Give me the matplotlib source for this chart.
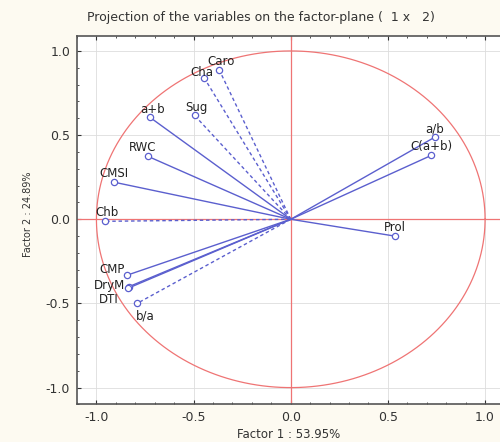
import numpy as np
import matplotlib.pyplot as plt
from matplotlib.ticker import MultipleLocator

plt.rcParams['font.family'] = ['DejaVu Sans']
plt.rcParams['axes.unicode_minus'] = False

# factor loadings
variables = ['Caro', 'Cha', 'Sug', 'a+b', 'RWC', 'CMSI', 'Chb',
             'CMP', 'DryM', 'DTI', 'b/a', 'a/b', 'C(a+b)', 'Prol']
factor1 = [-0.367, -0.444, -0.495, -0.724, -0.735, -0.908, -0.954,
           -0.842, -0.832, -0.838, -0.791, 0.740, 0.724, 0.536]
factor2 = [0.885, 0.837, 0.617, 0.605, 0.374, 0.220, -0.012,
           -0.332, -0.400, -0.410, -0.500, 0.487, 0.380, -0.100]
active = [False, False, False, True, True, True, False,
          True, True, True, False, True, True, True]

# label offsets in points (dx, dy) and alignment
label_off = [(1, 6), (-2, 4), (1, 6), (2, 6), (-4, 6), (0, 6), (1, 6),
             (-2, 4), (-3, 1), (-7, -8), (6, -9), (0, 6), (0, 6), (0, 6)]
label_ha = ['center', 'center', 'center', 'center', 'center', 'center', 'center',
            'right', 'right', 'right', 'center', 'center', 'center', 'center']

blue = '#5b5fce'
red = '#ef7474'

fig = plt.figure(figsize=(5.0, 4.42), dpi=100)
fig.patch.set_facecolor('#fdfaf1')
ax = fig.add_axes([0.154, 0.085, 0.855, 0.834])
ax.set_facecolor('white')

# unit circle and red crosshair
t = np.linspace(0, 2 * np.pi, 400)
ax.plot(np.cos(t), np.sin(t), color=red, lw=0.9, zorder=2)
ax.axhline(0, color=red, lw=0.9, zorder=2)
ax.axvline(0, color=red, lw=0.9, zorder=2)

for i, name in enumerate(variables):
    x, y = factor1[i], factor2[i]
    ls = '-' if active[i] else (0, (2.5, 2))
    ax.plot([0, x], [0, y], color=blue, lw=1.0, ls=ls, zorder=3)
    ax.plot(x, y, marker='o', ms=4.5, mfc='white', mec=blue, mew=0.9, zorder=4)
    dx, dy = label_off[i]
    ax.annotate(name, (x, y), xytext=(dx, dy), textcoords='offset points',
                ha=label_ha[i], va='center', fontsize=8.5, color='#222222', zorder=5)

ax.set_xlim(-1.1, 1.1)
ax.set_ylim(-1.1, 1.09)
ax.set_xticks([-1.0, -0.5, 0.0, 0.5, 1.0])
ax.set_yticks([-1.0, -0.5, 0.0, 0.5, 1.0])
ax.xaxis.set_minor_locator(MultipleLocator(0.1))
ax.yaxis.set_minor_locator(MultipleLocator(0.1))
ax.tick_params(which='both', direction='in', top=True, right=True,
               labelsize=9, colors='#333333')
ax.tick_params(which='major', length=3, pad=5)
ax.tick_params(which='minor', length=1.5)
ax.grid(True, which='major', color='#dddddd', lw=0.6)
for s in ax.spines.values():
    s.set_color('#555555')
    s.set_linewidth(1.2)

fig.text(261 / 500, 1 - 18 / 442,
         'Projection of the variables on the factor-plane (  1 x   2)',
         ha='center', va='center', fontsize=9, color='#333333')
fig.text(289 / 500, 1 - 434 / 442, 'Factor 1 : 53.95%',
         ha='center', va='center', fontsize=8.5, color='#333333')
fig.text(28 / 500, 1 - 214 / 442, 'Factor 2 : 24.89%', rotation=90,
         ha='center', va='center', fontsize=7, color='#333333')

fig.savefig('out.png', dpi=100, facecolor=fig.get_facecolor())
